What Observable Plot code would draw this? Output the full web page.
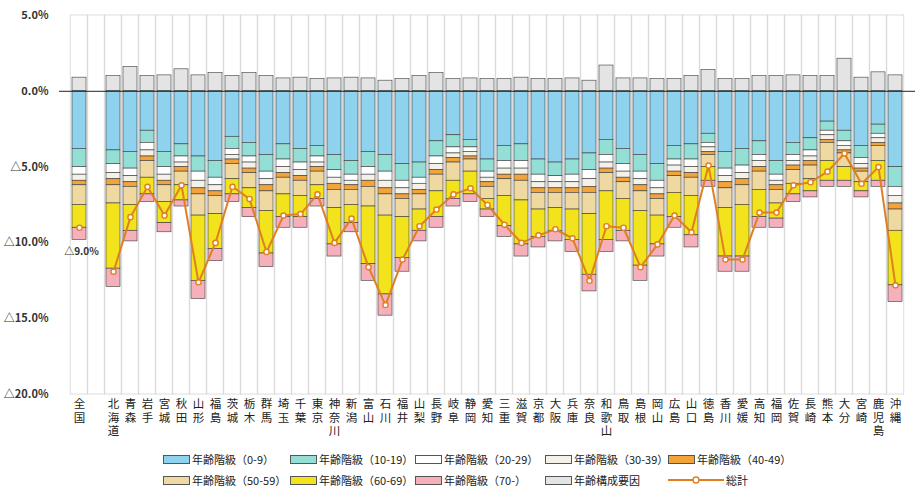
<!DOCTYPE html>
<html><head><meta charset="utf-8">
<script src="https://cdn.jsdelivr.net/npm/d3@7"></script>
<script src="https://cdn.jsdelivr.net/npm/@observablehq/plot@0.6"></script>
<style>
body{margin:0;background:#fff;font-family:"Noto Sans CJK JP","Noto Sans",sans-serif;}
#chart svg{display:block;}
#legend{position:relative;height:44px;width:915px;font-size:11px;color:#222;}
.item{position:absolute;display:flex;align-items:center;white-space:nowrap;height:16px;}
.sw{width:27px;height:9px;box-sizing:border-box;margin-right:2px;}
</style></head><body>
<div id="chart"></div><div id="legend"></div>
<script>
const categories = ["全国","北海道","青森","岩手","宮城","秋田","山形","福島","茨城","栃木","群馬","埼玉","千葉","東京","神奈川","新潟","富山","石川","福井","山梨","長野","岐阜","静岡","愛知","三重","滋賀","京都","大阪","兵庫","奈良","和歌山","鳥取","島根","岡山","広島","山口","徳島","香川","愛媛","高知","福岡","佐賀","長崎","熊本","大分","宮崎","鹿児島","沖縄"];
const seriesNames = ["年齢構成要因","年齢階級（0-9）","年齢階級（10-19）","年齢階級（20-29）","年齢階級（30-39）","年齢階級（40-49）","年齢階級（50-59）","年齢階級（60-69）","年齢階級（70-）"];
const factor  = [0.9,1.0,1.6,1.0,1.05,1.45,1.05,1.2,1.0,1.2,1.0,0.85,0.9,0.8,0.85,0.9,0.85,0.7,0.8,1.0,1.2,0.8,0.85,0.8,0.8,0.9,0.8,0.8,0.85,0.7,1.7,0.85,0.85,0.8,0.8,1.0,1.4,0.8,0.8,1.0,1.0,1.05,1.0,1.0,2.15,0.9,1.25,1.05];
const age0_9  = [-3.8,-3.9,-4.0,-2.6,-4.0,-3.5,-4.3,-4.6,-3.0,-3.4,-4.2,-3.5,-3.8,-3.6,-4.2,-4.6,-4.0,-4.2,-4.8,-4.7,-3.3,-2.9,-3.2,-4.5,-3.6,-3.5,-4.5,-4.7,-4.5,-4.1,-3.2,-3.8,-4.2,-4.8,-3.6,-3.5,-2.8,-4.0,-3.8,-3.3,-4.6,-3.4,-3.1,-2.0,-2.6,-3.6,-2.2,-5.0];
const age10_19 = [-1.2,-0.9,-1.1,-0.8,-1.0,-0.8,-1.0,-1.1,-0.8,-0.9,-1.1,-1.0,-0.9,-0.7,-1.0,-0.9,-1.0,-1.1,-1.1,-1.0,-1.0,-0.8,-0.5,-0.8,-1.0,-1.1,-1.0,-0.9,-1.0,-1.1,-1.0,-1.0,-1.1,-1.1,-0.9,-1.0,-0.6,-1.1,-1.1,-0.9,-0.9,-0.8,-0.8,-0.6,-0.7,-0.8,-0.6,-1.3];
const age20_29 = [-0.5,-0.6,-0.5,-0.5,-0.5,-0.4,-0.6,-0.5,-0.4,-0.4,-0.5,-0.5,-0.5,-0.4,-0.5,-0.4,-0.5,-0.6,-0.5,-0.4,-0.5,-0.4,-0.3,-0.4,-0.5,-0.5,-0.5,-0.4,-0.5,-0.6,-0.5,-0.5,-0.5,-0.5,-0.4,-0.5,-0.3,-0.5,-0.5,-0.4,-0.4,-0.4,-0.4,-0.3,-0.3,-0.4,-0.3,-0.6];
const age30_39 = [-0.4,-0.4,-0.4,-0.4,-0.4,-0.3,-0.5,-0.4,-0.3,-0.4,-0.4,-0.4,-0.4,-0.3,-0.4,-0.3,-0.4,-0.5,-0.4,-0.4,-0.4,-0.3,-0.3,-0.3,-0.4,-0.4,-0.4,-0.4,-0.4,-0.5,-0.4,-0.4,-0.4,-0.4,-0.4,-0.4,-0.3,-0.4,-0.4,-0.4,-0.3,-0.3,-0.3,-0.3,-0.3,-0.3,-0.3,-0.5];
const age40_49 = [-0.3,-0.4,-0.3,-0.3,-0.3,-0.3,-0.4,-0.3,-0.3,-0.3,-0.4,-0.3,-0.3,-0.3,-0.4,-0.3,-0.4,-0.4,-0.3,-0.3,-0.3,-0.3,-0.2,-0.3,-0.3,-0.4,-0.3,-0.3,-0.3,-0.4,-0.3,-0.3,-0.4,-0.3,-0.3,-0.3,-0.2,-0.4,-0.4,-0.3,-0.3,-0.3,-0.3,-0.2,-0.2,-0.2,-0.2,-0.4];
const age50_59 = [-1.3,-1.2,-1.2,-1.1,-1.1,-0.9,-1.4,-1.2,-1.0,-1.0,-1.3,-1.1,-1.0,-0.9,-1.2,-1.0,-1.3,-1.4,-1.2,-1.0,-1.1,-1.2,-0.8,-0.8,-1.1,-1.3,-1.1,-1.0,-1.1,-1.4,-1.2,-1.1,-1.3,-1.1,-1.1,-1.2,-0.8,-1.3,-1.3,-1.2,-0.9,-0.9,-0.9,-1.2,-0.9,-0.7,-1.0,-1.4];
const age60_69 = [-1.5,-4.3,-1.7,-1.1,-1.4,-1.0,-4.3,-2.3,-1.0,-1.3,-2.8,-1.5,-1.4,-0.9,-2.4,-1.2,-3.8,-5.2,-2.7,-1.4,-1.7,-1.2,-1.5,-0.7,-2.0,-2.9,-1.8,-1.5,-2.0,-4.0,-3.2,-2.1,-3.6,-1.9,-1.6,-2.6,-0.9,-3.2,-3.4,-1.8,-1.0,-0.7,-0.8,-1.3,-0.9,-0.6,-1.3,-3.6];
const age70 = [-0.8,-1.2,-0.7,-0.5,-0.6,-0.4,-1.2,-0.8,-0.5,-0.6,-0.9,-0.7,-0.7,-0.5,-0.8,-0.6,-1.1,-1.4,-0.9,-0.7,-0.7,-0.5,-0.5,-0.5,-0.7,-0.8,-0.7,-0.7,-0.8,-1.1,-0.8,-0.7,-1.0,-0.8,-0.7,-0.8,-0.4,-1.0,-1.0,-0.7,-0.6,-0.5,-0.4,-0.4,-0.4,-0.4,-0.4,-1.1];
const total = [-9.0,-11.9,-8.3,-6.3,-8.2,-6.2,-12.6,-10.0,-6.3,-7.1,-10.6,-8.2,-8.1,-6.8,-10.0,-8.4,-11.6,-14.1,-11.1,-8.9,-7.8,-6.8,-6.4,-7.5,-8.8,-10.0,-9.5,-9.1,-9.7,-12.5,-8.9,-9.0,-11.6,-10.1,-8.2,-9.3,-4.9,-11.1,-11.1,-8.0,-8.0,-6.2,-6.0,-5.3,-4.1,-6.1,-5.0,-12.8];
const yTicks = [5, 0, -5, -10, -15, -20];
const nationalLabel = "△9.0%";
const seriesColors = ["#e4e4e4","#8fd2ee","#93dfd6","#ffffff","#f4f1e8","#f2a33a","#efd9a0","#f2e31c","#f5b0bc"];
const lineColor = "#e07f22";

const seriesValues = [factor, age0_9, age10_19, age20_29, age30_39, age40_49, age50_59, age60_69, age70];
const rows = [];
categories.forEach((c, i) => seriesValues.forEach((arr, k) => rows.push({cat: c, series: seriesNames[k], value: arr[i]})));
const xDomain = [categories[0], " ", ...categories.slice(1)];
const totals = categories.map((c, i) => ({cat: c, value: total[i]}));

const fmtPct = d => d < 0 ? "△" + (-d).toFixed(1) + "%" : d.toFixed(1) + "%";

const chart = Plot.plot({
  width: 915, height: 446,
  marginLeft: 59, marginRight: 0, marginTop: 15, marginBottom: 52,
  style: {fontFamily: '"Noto Sans CJK JP","Noto Sans",sans-serif', background: "#fff"},
  x: {domain: xDomain, paddingInner: 0.2, paddingOuter: 0.1, axis: null, label: null},
  y: {domain: [-20, 5], axis: null, label: null},
  color: {domain: seriesNames, range: seriesColors},
  marks: [
    Plot.barY(xDomain, {x: d => d, y1: -20, y2: 5, fill: "none", stroke: "#d4d4d4", strokeWidth: 0.8, insetLeft: -1.75, insetRight: -1.75}),
    Plot.barY(rows, {x: "cat", y: "value", fill: "series", stroke: "#3a3a3a", strokeWidth: 0.6}),
    Plot.ruleY([0], {stroke: "#222", strokeWidth: 1}),
    Plot.line(totals.slice(1), {x: "cat", y: "value", stroke: lineColor, strokeWidth: 2}),
    Plot.dot(totals, {x: "cat", y: "value", r: 2.6, fill: "#fff", stroke: lineColor, strokeWidth: 1.4}),
    Plot.text(totals.slice(0, 1), {x: "cat", y: "value", text: () => nationalLabel, dy: 24, dx: 2, fontSize: 10, fontWeight: "bold", fill: "#333"}),
    Plot.axisY({ticks: yTicks, tickFormat: fmtPct, tickSize: 0, tickPadding: 11, fontSize: 11, fontWeight: "bold", color: "#333", label: null}),
    Plot.axisX({tickFormat: d => d.trim() === "" ? "" : [...d].join("\n"), tickSize: 0, tickPadding: 4, fontSize: 11.5, lineHeight: 1.17, color: "#222", label: null})
  ]
});
document.getElementById("chart").appendChild(chart);

// legend
const legend = document.getElementById("legend");
const lx = [163, 290, 415, 545, 668];
const items = [
  [0, 1], [1, 2], [2, 3], [3, 4], [4, 5],
  [0, 6], [1, 7], [2, 8], [3, 0]
];
items.forEach(([col, s], j) => {
  const row = j < 5 ? 0 : 1;
  const div = document.createElement("div");
  div.className = "item";
  div.style.left = lx[col] + "px";
  div.style.top = (row === 0 ? 5 : 26) + "px";
  const sw = document.createElement("div");
  sw.className = "sw";
  sw.style.background = seriesColors[s];
  sw.style.border = "1px solid #555";
  div.appendChild(sw);
  div.appendChild(document.createTextNode(seriesNames[s]));
  legend.appendChild(div);
});
const tdiv = document.createElement("div");
tdiv.className = "item";
tdiv.style.left = lx[4] + "px";
tdiv.style.top = "26px";
tdiv.innerHTML = `<svg width="56" height="10" style="margin-right:2px"><line x1="0" y1="5" x2="56" y2="5" stroke="${lineColor}" stroke-width="2"/><circle cx="28" cy="5" r="3" fill="#fff" stroke="${lineColor}" stroke-width="1.4"/></svg>総計`;
legend.appendChild(tdiv);
</script>
</body></html>
